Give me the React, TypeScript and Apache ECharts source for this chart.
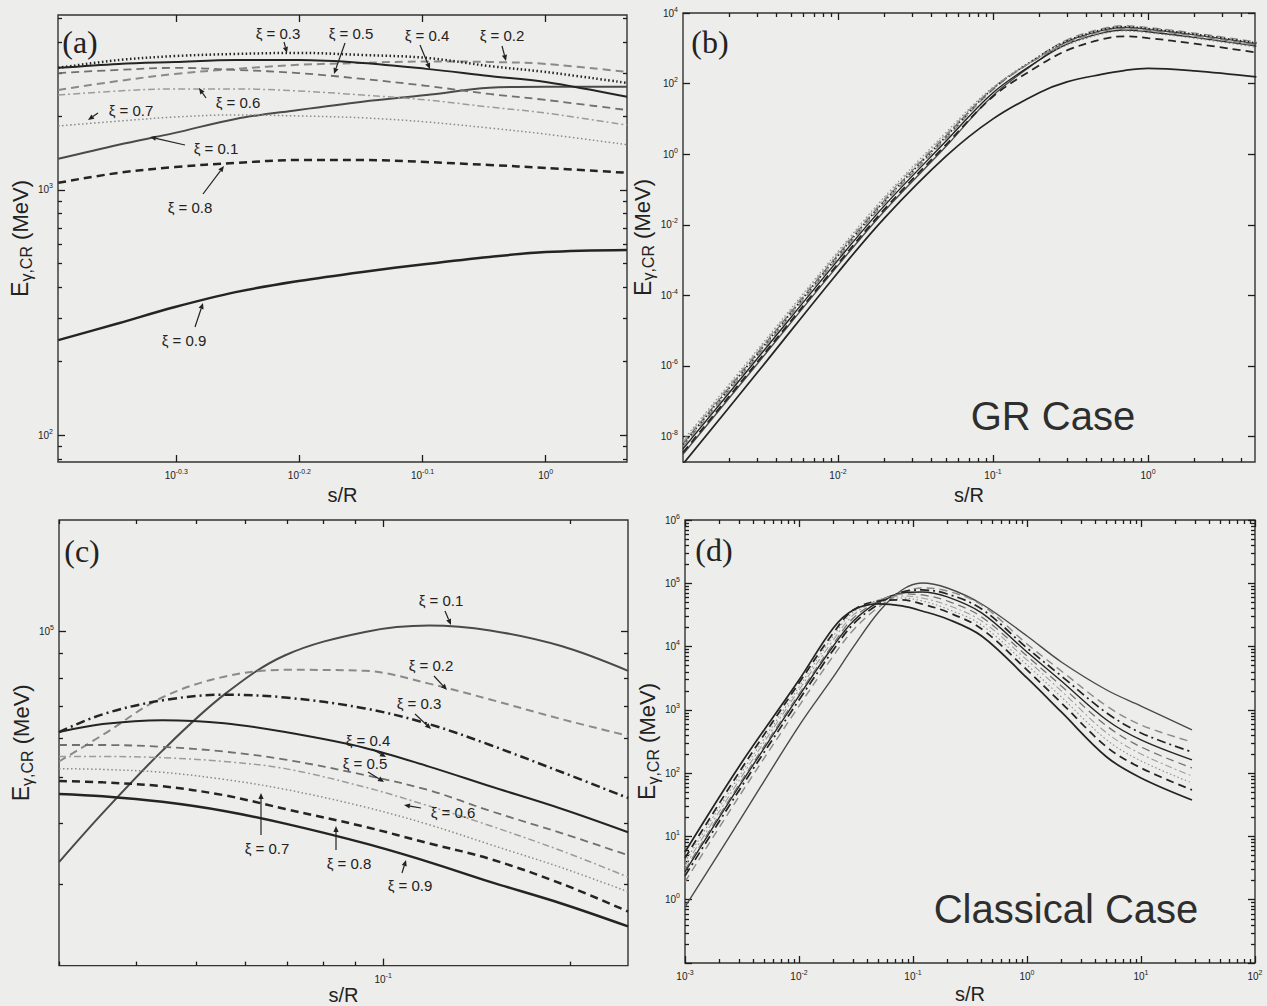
import React, { useEffect, useRef } from "react";
import * as echarts from "echarts";

const FONT = "'Liberation Sans', Arial, Helvetica, sans-serif";
const SERIF = "'Liberation Serif', 'Times New Roman', serif";
const BG = "#ededeb";
const INK = "#222222";

const XI = ["0.1", "0.2", "0.3", "0.4", "0.5", "0.6", "0.7", "0.8", "0.9"];

// ---------- panel (a) ----------
const aS = [0.402, 0.45, 0.5, 0.56, 0.63, 0.71, 0.8, 0.9, 1.0, 1.164];
const aE01 = [1340, 1530, 1710, 1950, 2120, 2290, 2440, 2610, 2640, 2640];
const aE02 = [2560, 2785, 2975, 3120, 3240, 3300, 3345, 3330, 3270, 3030];
const aE03 = [3150, 3390, 3520, 3590, 3625, 3555, 3460, 3205, 3030, 2735];
const aE04 = [3150, 3270, 3330, 3390, 3390, 3300, 3120, 2920, 2760, 2400];
const aE05 = [3000, 3090, 3150, 3090, 3000, 2840, 2660, 2465, 2330, 2120];
const aE06 = [2440, 2535, 2585, 2585, 2535, 2440, 2330, 2180, 2060, 1840];
const aE07 = [1825, 1910, 1985, 2025, 2005, 1970, 1895, 1790, 1690, 1530];
const aE08 = [1070, 1175, 1240, 1290, 1325, 1325, 1300, 1265, 1230, 1175];
const aE09 = [244, 286, 333, 383, 425, 463, 499, 533, 558, 569];
const aXTickExp = [-0.3, -0.2, -0.1, 0];
const aYTickExp = [2, 3];

// ---------- panel (b) ----------
const bS = [0.001, 0.003, 0.01, 0.02, 0.05, 0.1, 0.2, 0.3, 0.5, 0.7, 1, 2, 5];
const bE01 = [3.16e-9, 1.12e-6, 7.08e-4, 0.0251, 1.7, 46.3, 472, 1550, 3160, 3890, 3470, 2400, 1350];
const bE02 = [5.25e-9, 1.86e-6, 1.17e-3, 0.0417, 2.82, 67.6, 603, 1740, 3550, 4370, 3890, 2690, 1510];
const bE03 = [6.03e-9, 2.14e-6, 1.35e-3, 0.0479, 3.24, 72.4, 603, 1620, 3310, 4070, 3630, 2510, 1410];
const bE04 = [4.47e-9, 1.58e-6, 1.0e-3, 0.0355, 2.4, 55.3, 475, 1320, 2690, 3310, 2950, 2040, 1150];
const bE05 = [6.31e-9, 2.24e-6, 1.41e-3, 0.0501, 3.39, 71.9, 566, 1445, 2950, 3630, 3240, 2240, 1260];
const bE06 = [7.08e-9, 2.51e-6, 1.58e-3, 0.0562, 3.8, 76.4, 571, 1380, 2820, 3470, 3090, 2140, 1200];
const bE07 = [7.9e-9, 2.8e-6, 1.78e-3, 0.063, 4.27, 79.4, 550, 1230, 2510, 3090, 2750, 1905, 1070];
const bE08 = [3.55e-9, 1.26e-6, 7.94e-4, 0.0282, 1.91, 43.0, 333, 871, 1780, 2190, 1950, 1350, 759];
const bE09 = [1.67e-9, 6.31e-7, 4.47e-4, 0.0158, 0.891, 10.0, 56.2, 112, 182, 234, 269, 229, 155];
const bXTickExp = [-2, -1, 0];
const bYTickExp = [-8, -6, -4, -2, 0, 2, 4];

// ---------- panel (c) ----------
const cS = [0.03, 0.0353, 0.044, 0.0554, 0.0695, 0.0935, 0.1186, 0.1488, 0.1944, 0.2484];
const cE01 = [33300, 42100, 56600, 74000, 89300, 99800, 102900, 100500, 93200, 82900];
const cE02 = [53800, 61100, 73000, 80600, 83300, 82900, 78000, 72300, 65800, 60800];
const cE03 = [61900, 67400, 72000, 74000, 73000, 69300, 64300, 58200, 51100, 45200];
const cE04 = [61900, 64300, 65500, 64600, 61900, 57400, 52500, 47800, 42900, 38400];
const cE05 = [58200, 58200, 57700, 56400, 54300, 50400, 46900, 42500, 38200, 34400];
const cE06 = [55100, 55100, 54800, 53800, 52000, 47600, 43500, 39600, 35100, 31000];
const cE07 = [52000, 51800, 51100, 49400, 47100, 43300, 39800, 36200, 32400, 28900];
const cE08 = [49000, 48700, 47800, 45800, 42900, 39400, 36400, 33800, 30000, 26300];
const cE09 = [46100, 45600, 44400, 42500, 40000, 36400, 33300, 30300, 27300, 24500];
const cXTickExp = [-1];
const cYTickExp = [5];

// ---------- panel (d) ----------
const dS = [0.001, 0.003, 0.01, 0.02, 0.03, 0.05, 0.08, 0.12, 0.2, 0.4, 1, 2, 5, 10, 28];
const dE01 = [0.769, 17.6, 557, 3310, 9860, 35200, 78400, 101100, 84300, 47100, 14700, 5710, 2060, 1150, 481];
const dE02 = [1.91, 43.6, 1150, 7100, 18300, 42200, 70300, 84300, 75600, 45400, 11000, 4120, 1150, 577, 311];
const dE03 = [2.38, 54.3, 1430, 8840, 22800, 47100, 72900, 78400, 67800, 39300, 9500, 3430, 894, 432, 216];
const dE04 = [2.75, 62.8, 1660, 10200, 25400, 50700, 70300, 72900, 60800, 34000, 8210, 2860, 692, 335, 162];
const dE05 = [2.96, 67.5, 1780, 11000, 28300, 52500, 67800, 65400, 52500, 29400, 7100, 2390, 557, 259, 121];
const dE06 = [3.42, 78.1, 2060, 12700, 31600, 54500, 63000, 58600, 45400, 25400, 6140, 1990, 432, 201, 90.3];
const dE07 = [3.96, 90.3, 2300, 14700, 35200, 54500, 58600, 52500, 39300, 21900, 5120, 1600, 335, 156, 70.0];
const dE08 = [4.57, 104.5, 2660, 16400, 37900, 52500, 54500, 47100, 35200, 19000, 4270, 1290, 259, 121, 54.3];
const dE09 = [5.69, 130, 2970, 19700, 37900, 47100, 43800, 36500, 27300, 14700, 3190, 926, 180, 84.0, 37.7];
const dXTickExp = [-3, -2, -1, 0, 1, 2];
const dYTickExp = [-1, 0, 1, 2, 3, 4, 5, 6];
const dYLabelExp = [0, 1, 2, 3, 4, 5, 6];

// ---------- annotations: [text, labelX, labelY, arrowFromX, arrowFromY, arrowToX, arrowToY] ----------
const aNotes: [string, number, number, number, number, number, number][] = [
  ["ξ = 0.3", 278, 33, 284, 42, 287, 53],
  ["ξ = 0.5", 351, 33, 345, 43, 334, 74],
  ["ξ = 0.4", 427, 35, 420, 45, 430, 69],
  ["ξ = 0.2", 502, 35, 502, 46, 506, 61],
  ["ξ = 0.6", 238, 102, 206, 98, 199, 88],
  ["ξ = 0.7", 131, 110, 98, 113, 88, 120],
  ["ξ = 0.1", 216, 148, 185, 145, 150, 137],
  ["ξ = 0.8", 190, 207, 203, 194, 224, 166],
  ["ξ = 0.9", 184, 340, 195, 327, 203, 303],
];
const cNotes: [string, number, number, number, number, number, number][] = [
  ["ξ = 0.1", 441, 600, 445, 611, 451, 625],
  ["ξ = 0.2", 431, 665, 434, 676, 447, 690],
  ["ξ = 0.3", 419, 703, 415, 714, 431, 729],
  ["ξ = 0.4", 368, 740, 372, 749, 386, 757],
  ["ξ = 0.5", 365, 763, 368, 772, 384, 782],
  ["ξ = 0.6", 453, 812, 421, 808, 404, 805],
  ["ξ = 0.7", 267, 848, 261, 835, 261, 793],
  ["ξ = 0.8", 349, 863, 336, 850, 336, 826],
  ["ξ = 0.9", 410, 885, 402, 873, 406, 860],
];

// ---------- styles ----------
const BLACK = "#242424";
const DARK = "#4a4a4a";
const GRAY = "#8a8a8a";
const LGRAY = "#9c9c9c";
type Sty = { c: string; w: number; t: any };
const STY_A: Sty[] = [
  { c: DARK, w: 2, t: "solid" },
  { c: GRAY, w: 2, t: [8, 5] },
  { c: BLACK, w: 2.5, t: [1.5, 2.5] },
  { c: BLACK, w: 2, t: "solid" },
  { c: "#707070", w: 1.8, t: [8, 5] },
  { c: LGRAY, w: 1.5, t: [7, 3, 2, 3] },
  { c: GRAY, w: 1.5, t: [1.5, 2.5] },
  { c: BLACK, w: 2.5, t: [8, 5] },
  { c: BLACK, w: 2.5, t: "solid" },
];
const STY_C: Sty[] = STY_A.map((s, i) => (i === 2 ? { c: BLACK, w: 2.5, t: [9, 4, 2, 4] } : s));

function decadeMinors(lo: number, hi: number): number[] {
  const out: number[] = [];
  for (let d = Math.floor(lo) - 1; d <= Math.ceil(hi); d++) {
    for (let m = 2; m <= 9; m++) {
      const v = d + Math.log10(m);
      if (v > lo + 1e-6 && v < hi - 1e-6) out.push(v);
    }
  }
  return out;
}

const fmtExp = (v: number) => {
  const r = Math.round(v * 10) / 10;
  return String(r === 0 ? 0 : r);
};

const tickRich = {
  b: { fontSize: 10, fontFamily: FONT, color: INK, lineHeight: 15 },
  s: { fontSize: 7, fontFamily: FONT, color: INK, lineHeight: 7, verticalAlign: "top" },
};
const nameRich = {
  e: { fontSize: 23, fontFamily: FONT, color: INK, lineHeight: 28 },
  s: { fontSize: 16, fontFamily: FONT, color: INK, lineHeight: 16, verticalAlign: "bottom" },
  m: { fontSize: 22, fontFamily: FONT, color: INK, lineHeight: 28 },
};

type Panel = {
  grid: { left: number; top: number; width: number; height: number };
  xr: [number, number];
  yr: [number, number];
  xMajor: number[];
  xLabels: number[];
  xMinor: number[];
  yMajor: number[];
  yLabels: number[];
  yMinor: number[];
  xs: number[];
  ys: number[][];
  styles: Sty[];
  wScale: number;
  xNameGap: number;
  yNameGap: number;
};

const panels: Panel[] = [
  {
    grid: { left: 58, top: 15, width: 569, height: 447 },
    xr: [-0.396, 0.066], yr: [1.89, 3.714],
    xMajor: aXTickExp, xLabels: aXTickExp, xMinor: [],
    yMajor: aYTickExp, yLabels: aYTickExp, yMinor: decadeMinors(1.89, 3.714),
    xs: aS, ys: [aE01, aE02, aE03, aE04, aE05, aE06, aE07, aE08, aE09],
    styles: STY_A, wScale: 1, xNameGap: 23, yNameGap: 21,
  },
  {
    grid: { left: 683, top: 13, width: 572, height: 449 },
    xr: [-3, 0.69], yr: [-8.72, 4],
    xMajor: bXTickExp, xLabels: bXTickExp, xMinor: decadeMinors(-3, 0.69),
    yMajor: bYTickExp, yLabels: bYTickExp, yMinor: [],
    xs: bS, ys: [bE01, bE02, bE03, bE04, bE05, bE06, bE07, bE08, bE09],
    styles: STY_A, wScale: 0.7, xNameGap: 23, yNameGap: 21,
  },
  {
    grid: { left: 59, top: 520, width: 569, height: 452 },
    xr: [-1.523, -0.605], yr: [4.308, 5.231],
    xMajor: cXTickExp, xLabels: cXTickExp, xMinor: decadeMinors(-1.523, -0.605),
    yMajor: cYTickExp, yLabels: cYTickExp, yMinor: decadeMinors(4.308, 5.231),
    xs: cS, ys: [cE01, cE02, cE03, cE04, cE05, cE06, cE07, cE08, cE09],
    styles: STY_C, wScale: 1, xNameGap: 14, yNameGap: 21,
  },
  {
    grid: { left: 685, top: 520, width: 570, height: 443 },
    xr: [-3, 2], yr: [-1, 6],
    xMajor: dXTickExp, xLabels: dXTickExp, xMinor: decadeMinors(-3, 2),
    yMajor: dYTickExp, yLabels: dYLabelExp, yMinor: decadeMinors(-1, 6),
    xs: dS, ys: [dE01, dE02, dE03, dE04, dE05, dE06, dE07, dE08, dE09],
    styles: STY_C, wScale: 0.7, xNameGap: 21, yNameGap: 21,
  },
];

function baseAxis(gi: number, min: number, max: number, position: string) {
  return {
    type: "value",
    gridIndex: gi,
    position,
    min,
    max,
    scale: true,
    axisLine: { show: false, onZero: false },
    splitLine: { show: false },
    axisPointer: { show: false },
  };
}

function buildAxes(p: Panel, gi: number, dim: "x" | "y") {
  const [lo, hi] = dim === "x" ? p.xr : p.yr;
  const major = dim === "x" ? p.xMajor : p.yMajor;
  const minor = dim === "x" ? p.xMinor : p.yMinor;
  const labels = dim === "x" ? p.xLabels : p.yLabels;
  const pos1 = dim === "x" ? "bottom" : "left";
  const pos2 = dim === "x" ? "top" : "right";
  const tick = (vals: number[], len: number) => ({
    show: vals.length > 0,
    inside: true,
    length: len,
    customValues: vals.length ? vals : undefined,
    lineStyle: { color: "#1c1c1c", width: 1.3 },
  });
  const main: any = {
    ...baseAxis(gi, lo, hi, pos1),
    axisTick: tick(major, 7),
    axisLabel: {
      show: true,
      customValues: labels,
      margin: dim === "x" ? 6 : 5,
      formatter: (v: number) => `{b|10}{s|${fmtExp(v)}}`,
      rich: tickRich,
    },
  };
  if (dim === "x") {
    main.name = "s/R";
    main.nameLocation = "middle";
    main.nameGap = p.xNameGap;
    main.nameTextStyle = { fontFamily: FONT, fontSize: 20, color: INK };
  } else {
    main.name = "{e|E}{s|γ,CR}{m| (MeV)}";
    main.nameLocation = "middle";
    main.nameRotate = 90;
    main.nameGap = p.yNameGap;
    main.nameTextStyle = { rich: nameRich };
  }
  const noLabel = { show: false };
  return [
    main,
    { ...baseAxis(gi, lo, hi, pos1), axisTick: tick(minor, 4), axisLabel: noLabel },
    { ...baseAxis(gi, lo, hi, pos2), axisTick: tick(major, 7), axisLabel: noLabel },
    { ...baseAxis(gi, lo, hi, pos2), axisTick: tick(minor, 4), axisLabel: noLabel },
  ];
}

function arrow(x1: number, y1: number, x2: number, y2: number) {
  const ang = Math.atan2(y2 - y1, x2 - x1);
  const L = 6;
  const W = 2.6;
  const bx = x2 - L * Math.cos(ang);
  const by = y2 - L * Math.sin(ang);
  const px = -Math.sin(ang) * W;
  const py = Math.cos(ang) * W;
  return [
    { type: "line", z: 100, shape: { x1, y1, x2: bx, y2: by }, style: { stroke: INK, lineWidth: 1.2 } },
    {
      type: "polygon", z: 100,
      shape: { points: [[x2, y2], [bx + px, by + py], [bx - px, by - py]] },
      style: { fill: INK },
    },
  ];
}

function noteGraphics(notes: [string, number, number, number, number, number, number][]) {
  const out: any[] = [];
  notes.forEach(([t, lx, ly, fx, fy, tx, ty]) => {
    out.push({
      type: "text", z: 100, x: lx, y: ly,
      style: { text: t, fontFamily: FONT, fontSize: 15, fill: INK, align: "center", verticalAlign: "middle" },
    });
    out.push(...arrow(fx, fy, tx, ty));
  });
  return out;
}

function buildOption() {
  const xAxis: any[] = [];
  const yAxis: any[] = [];
  const series: any[] = [];
  panels.forEach((p, gi) => {
    xAxis.push(...buildAxes(p, gi, "x"));
    yAxis.push(...buildAxes(p, gi, "y"));
    p.ys.forEach((ys, k) => {
      const st = p.styles[k];
      series.push({
        type: "line",
        name: `ξ = ${XI[k]}`,
        xAxisIndex: gi * 4,
        yAxisIndex: gi * 4,
        data: p.xs.map((x, i) => [Math.log10(x), Math.log10(ys[i])]),
        symbol: "none",
        showSymbol: false,
        smooth: 0.35,
        clip: true,
        silent: true,
        lineStyle: { color: st.c, width: st.w * p.wScale, type: st.t },
      });
    });
  });
  const letters = [
    ["(a)", 80, 42],
    ["(b)", 710, 42],
    ["(c)", 82, 551],
    ["(d)", 714, 550],
  ].map(([t, x, y]) => ({
    type: "text", z: 100, x, y,
    style: { text: t, fontFamily: SERIF, fontSize: 32, fill: INK, align: "center", verticalAlign: "middle" },
  }));
  const cases = [
    ["GR Case", 1053, 416],
    ["Classical Case", 1066, 909],
  ].map(([t, x, y]) => ({
    type: "text", z: 100, x, y,
    style: { text: t, fontFamily: FONT, fontSize: 40, fill: "#2e2e2e", align: "center", verticalAlign: "middle" },
  }));
  return {
    animation: false,
    backgroundColor: BG,
    grid: panels.map((p) => ({
      ...p.grid,
      show: true,
      borderColor: "#333333",
      borderWidth: 1.4,
      backgroundColor: "transparent",
      containLabel: false,
    })),
    xAxis,
    yAxis,
    series,
    graphic: [...letters, ...cases, ...noteGraphics(aNotes), ...noteGraphics(cNotes)],
  };
}

export default function App() {
  const ref = useRef<HTMLDivElement>(null);
  useEffect(() => {
    if (!ref.current) return;
    const chart = echarts.init(ref.current, null, { renderer: "svg" });
    chart.setOption(buildOption() as any);
    return () => chart.dispose();
  }, []);
  return (
    <div
      ref={ref}
      style={{ position: "fixed", left: 0, top: 0, width: 1267, height: 1006, background: BG }}
    />
  );
}
